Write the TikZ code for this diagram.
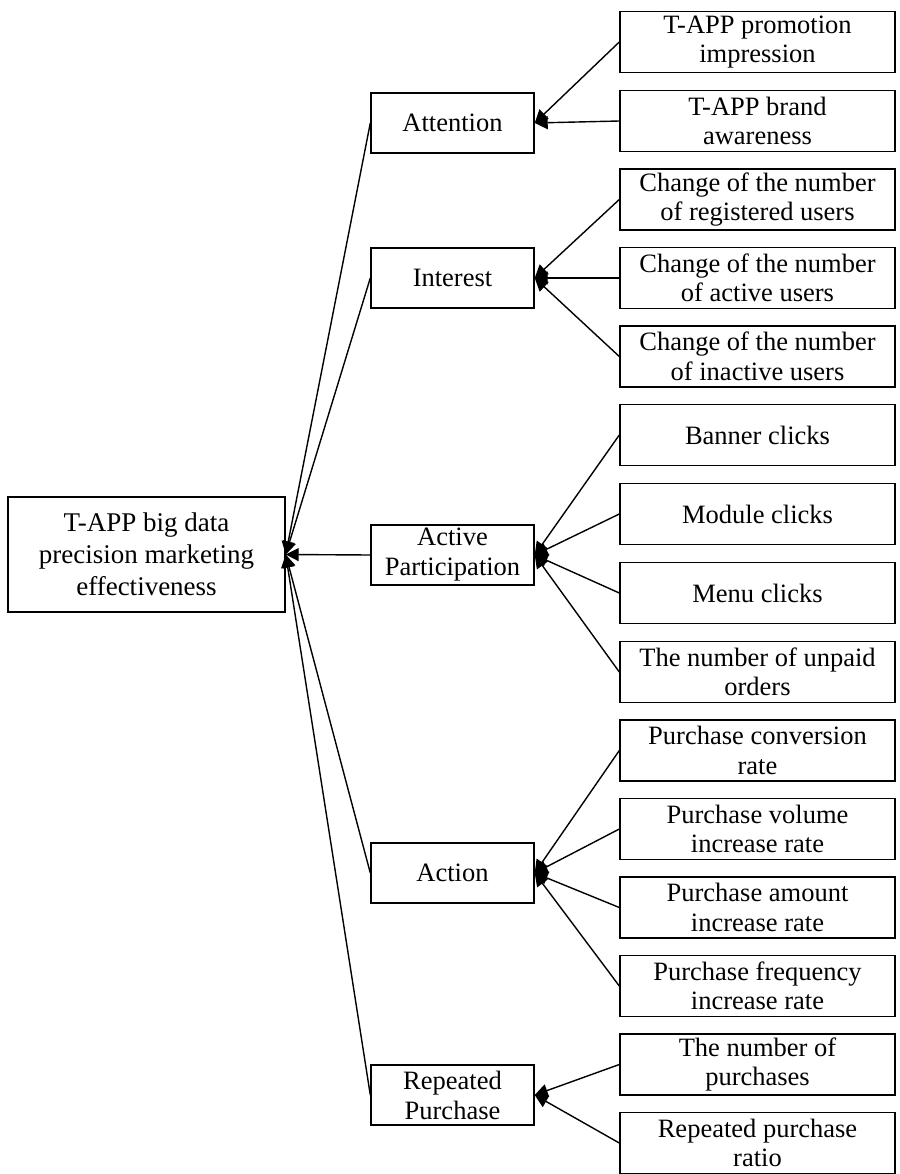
\documentclass[tikz,border=0pt]{standalone}
\usepackage{fontspec}
\setmainfont{Liberation Serif}
\usetikzlibrary{arrows.meta}

\begin{document}
\begin{tikzpicture}[x=1pt,y=-1pt,line width=1.4pt]
			\tikzstyle{box}=[draw,rectangle,align=center,inner sep=0pt,fill=white]
			\tikzstyle{root}=[box,minimum width=277pt,minimum height=115pt,font=\fontsize{27}{32}\selectfont]
			\tikzstyle{aspect}=[box,minimum width=163pt,minimum height=60pt,font=\fontsize{26.5}{30}\selectfont]
			\tikzstyle{indicator}=[box,minimum width=275pt,minimum height=61pt,font=\fontsize{26.5}{29.5}\selectfont]
			\tikzstyle{link}=[-{Triangle[length=13pt,width=13pt]}]
			
			\useasboundingbox (0,0) rectangle (899,1174);
			
			% root and the five stages
			\node [root] (eff) at (146.5,554.5) {T-APP big data\\precision marketing\\effectiveness};
			\node [aspect] (att) at (452.5,123) {Attention};
			\node [aspect] (int) at (452.5,278) {Interest};
			\node [aspect] (par) at (452.5,555) {Active\\Participation};
			\node [aspect] (act) at (452.5,873) {Action};
			\node [aspect] (rep) at (452.5,1095) {Repeated\\Purchase};
			
			% indicators
			\node [indicator] (i1) at (757.5,42) {T-APP promotion\\impression};
			\node [indicator] (i2) at (757.5,121) {T-APP brand\\awareness};
			\node [indicator] (i3) at (757.5,199.5) {Change of the number\\of registered users};
			\node [indicator] (i4) at (757.5,278) {Change of the number\\of active users};
			\node [indicator] (i5) at (757.5,356.5) {Change of the number\\of inactive users};
			\node [indicator] (i6) at (757.5,435) {Banner clicks};
			\node [indicator] (i7) at (757.5,514) {Module clicks};
			\node [indicator] (i8) at (757.5,593) {Menu clicks};
			\node [indicator] (i9) at (757.5,672) {The number of unpaid\\orders};
			\node [indicator] (i10) at (757.5,750.5) {Purchase conversion\\rate};
			\node [indicator] (i11) at (757.5,829) {Purchase volume\\increase rate};
			\node [indicator] (i12) at (757.5,907.5) {Purchase amount\\increase rate};
			\node [indicator] (i13) at (757.5,986) {Purchase frequency\\increase rate};
			\node [indicator] (i14) at (757.5,1064.5) {The number of\\purchases};
			\node [indicator] (i15) at (757.5,1143) {Repeated purchase\\ratio};
			
			\foreach \s in {att,int,par,act,rep}
				\draw [link] (\s.west) -- (eff.east);
			\foreach \i in {1,2}
				\draw [link] (i\i.west) -- (att.east);
			\foreach \i in {3,4,5}
				\draw [link] (i\i.west) -- (int.east);
			\foreach \i in {6,7,8,9}
				\draw [link] (i\i.west) -- (par.east);
			\foreach \i in {10,11,12,13}
				\draw [link] (i\i.west) -- (act.east);
			\foreach \i in {14,15}
				\draw [link] (i\i.west) -- (rep.east);
\end{tikzpicture}
\end{document}
